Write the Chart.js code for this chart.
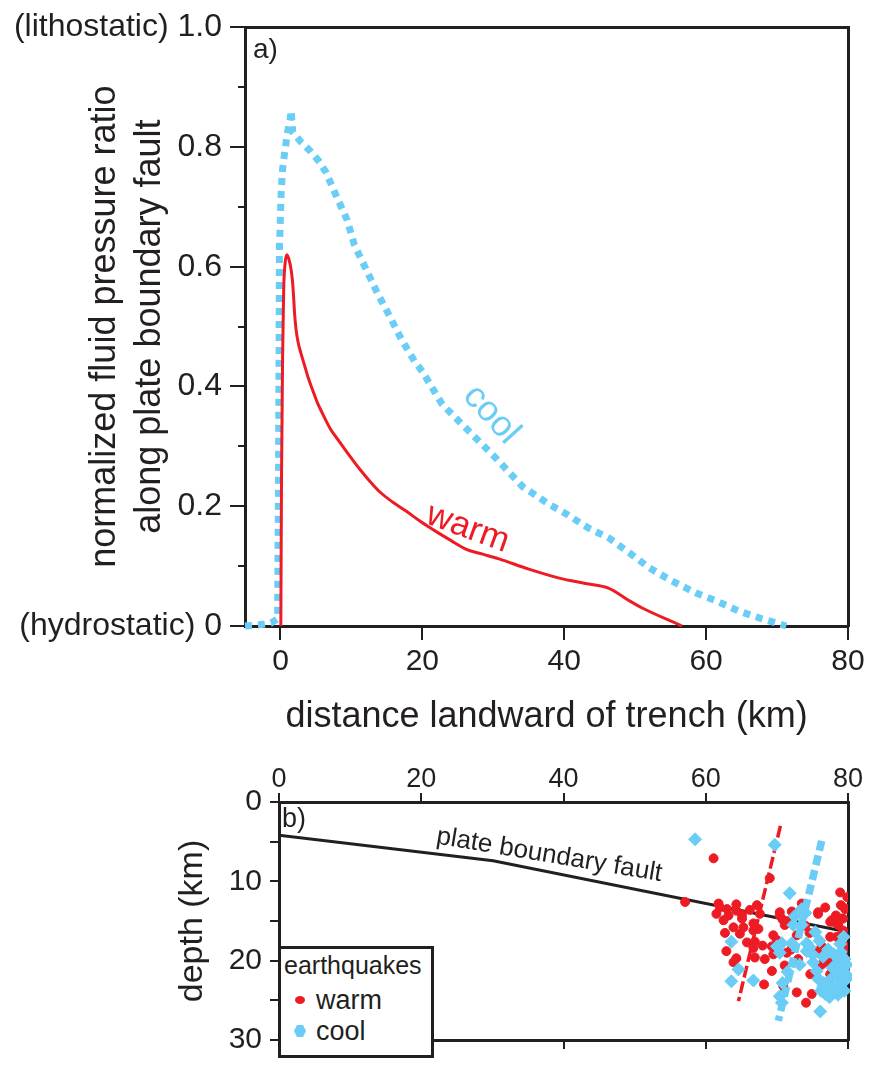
<!DOCTYPE html>
<html>
<head>
<meta charset="utf-8">
<script src="https://cdn.jsdelivr.net/npm/chart.js@4.4.1/dist/chart.umd.min.js"></script>
<style>
html,body{margin:0;padding:0;background:#fff;}
#wrap{position:relative;width:879px;height:1066px;overflow:hidden;font-family:"Liberation Sans",Arial,Helvetica,sans-serif;color:#231f20;}
#c1{position:absolute;left:0;top:0;}
#c2{position:absolute;left:0;top:750px;}
#legend{position:absolute;left:278px;top:946px;width:150px;height:106px;border:3px solid #231f20;background:#fff;}
.lg{position:absolute;white-space:nowrap;line-height:30px;}
#lgTitle{left:284px;top:950px;font-size:25px;}
#lgWarm{left:316px;top:985px;font-size:27px;}
#lgCool{left:316px;top:1016px;font-size:27px;}
#dotWarm{position:absolute;left:295px;top:996px;width:10px;height:8px;border-radius:50%;background:#ED1C24;}
#dotCool{position:absolute;left:294px;top:1025px;width:12px;height:12px;background:#6ACDF5;clip-path:polygon(25% 0,75% 0,100% 50%,75% 100%,25% 100%,0 50%);}
</style>
</head>
<body>
<div id="wrap">
  <canvas id="c1" width="879" height="750"></canvas>
  <canvas id="c2" width="879" height="316"></canvas>
  <div id="legend"></div>
  <div class="lg" id="lgTitle">earthquakes</div>
  <div id="dotWarm"></div><div class="lg" id="lgWarm">warm</div>
  <div id="dotCool"></div><div class="lg" id="lgCool">cool</div>
</div>
<script>
// ---------- panel a) data ----------
const warmX = [0.05, 0.15, 0.3, 0.45, 0.65, 0.9, 1.2, 1.5, 1.7, 1.85, 2.0, 2.2, 2.5, 2.9, 3.4, 3.9, 4.5, 5.2, 6.0, 7.0, 8.3, 9.7, 11.1, 12.5, 13.9, 15.8, 17.7, 19.8, 21.9, 24.0, 26.2, 28.5, 30.8, 35.0, 39.3, 43.0, 46.3, 49.2, 51.0, 56.6];
const warmY = [0, 0.25, 0.45, 0.56, 0.605, 0.62, 0.612, 0.595, 0.575, 0.55, 0.52, 0.495, 0.473, 0.455, 0.435, 0.415, 0.395, 0.373, 0.353, 0.33, 0.308, 0.285, 0.263, 0.243, 0.225, 0.207, 0.192, 0.174, 0.158, 0.143, 0.128, 0.12, 0.112, 0.095, 0.08, 0.071, 0.063, 0.042, 0.03, 0];

const coolX = [-5, -3, -1.3, -0.4, -0.3, -0.2, -0.15, 0.1, 0.3, 0.56, 1.0, 1.37, 1.5, 1.73, 2.9, 4.3, 5.5, 6.4, 7.8, 9.4, 10.4, 12.1, 13.7, 15.4, 17.0, 18.9, 20.0, 22.8, 26.6, 30.4, 34.1, 37.9, 40.3, 43.5, 46.3, 49.2, 52.0, 55.2, 58.6, 61.4, 64.6, 67.9, 71.3];
const coolY = [0, 0.002, 0.005, 0.012, 0.2, 0.45, 0.63, 0.725, 0.763, 0.788, 0.825, 0.847, 0.861, 0.825, 0.808, 0.792, 0.775, 0.758, 0.72, 0.678, 0.637, 0.595, 0.555, 0.517, 0.48, 0.442, 0.425, 0.37, 0.325, 0.28, 0.233, 0.203, 0.187, 0.163, 0.147, 0.122, 0.097, 0.075, 0.055, 0.042, 0.025, 0.012, 0];

const topXTickValues = [0, 20, 40, 60, 80];
const topXTickLabels = ['0', '20', '40', '60', '80'];
const topYTickValues = [0, 0.2, 0.4, 0.6, 0.8, 1.0];
const topYTickLabels = ['(hydrostatic) 0', '0.2', '0.4', '0.6', '0.8', '(lithostatic) 1.0'];
const topYMinorValues = [0.1, 0.3, 0.5, 0.7, 0.9];
const topXTitle = 'distance landward of trench (km)';
const topYTitle = ['normalized fluid pressure ratio', 'along plate boundary fault'];

// ---------- panel b) data ----------
const faultX = [0, 30.1, 80];
const faultDepth = [4.2, 7.4, 16.4];
const warmTrendX = [70.5, 64.6];
const warmTrendDepth = [3.0, 25.1];
const coolTrendX = [76.3, 70.2];
const coolTrendDepth = [4.9, 27.6];

const warmQuakeX = [57.1, 61.1, 69.0, 78.9, 61.8, 64.3, 64.3, 66.2, 75.8, 79.6, 61.5, 63.2, 67.6, 70.4, 72.1, 77.7, 79.3, 62.5, 65.1, 65.1, 70.4, 71.1, 71.6, 70.8, 63.9, 65.3, 66.7, 67.4, 62.7, 69.5, 70.0, 65.8, 66.9, 66.7, 72.8, 74.0, 75.8, 77.5, 78.6, 77.5, 79.3, 76.3, 75.8, 69.3, 71.4, 69.5, 64.3, 66.9, 68.3, 63.9, 76.3, 71.1, 69.3, 74.7, 75.6, 77.5, 70.9, 68.2, 72.8, 74.9, 74.1, 79.6, 79.1, 77.9, 78.4, 79.6, 79.9, 79.0, 78.3, 76.8, 73.5, 67.2, 62.0, 63.0, 74.6, 72.0, 68.0, 79.4, 78.6, 79.8, 73.0, 62.9, 64.8, 66.7, 77.2, 76.1];
const warmQuakeDepth = [12.6, 7.1, 9.6, 11.4, 12.8, 12.9, 13.7, 13.6, 13.9, 13.5, 14.1, 14.3, 14.1, 13.9, 13.8, 14.9, 14.7, 14.9, 14.7, 14.2, 14.3, 15.5, 15.0, 14.8, 15.8, 15.8, 15.3, 16.0, 16.5, 16.8, 17.4, 17.7, 17.6, 18.4, 16.8, 15.6, 14.1, 15.1, 15.5, 17.0, 16.2, 18.2, 19.0, 18.2, 19.0, 19.2, 19.7, 19.6, 19.8, 20.2, 20.5, 20.6, 21.3, 21.7, 22.1, 21.7, 23.2, 23.0, 24.0, 24.2, 25.3, 13.4, 14.7, 15.1, 17.0, 18.2, 12.0, 13.0, 14.3, 13.3, 12.8, 13.0, 13.3, 13.5, 16.5, 18.6, 18.1, 19.5, 20.3, 21.0, 19.8, 18.8, 16.6, 16.2, 20.2, 18.6];

const coolQuakeX = [58.5, 69.7, 71.8, 73.5, 74.0, 72.5, 72.3, 73.5, 75.4, 63.6, 70.0, 72.1, 74.2, 74.2, 70.7, 70.4, 64.6, 63.6, 66.7, 76.1, 70.4, 70.7, 76.5, 77.2, 78.0, 79.0, 79.5, 78.5, 77.8, 79.3, 78.4, 77.5, 76.6, 79.6, 78.8, 77.9, 76.2, 79.5, 78.6, 77.4, 76.8, 79.8, 80.0, 78.9, 79.4, 75.1, 75.8, 76.0, 75.0, 73.2, 71.5, 70.8, 74.6, 75.6, 76.5];
const coolQuakeDepth = [4.7, 5.4, 11.5, 13.5, 14.0, 14.4, 15.5, 15.5, 16.4, 17.6, 18.2, 17.8, 17.8, 18.8, 17.8, 19.0, 21.1, 22.6, 22.5, 26.4, 24.5, 25.3, 19.5, 18.6, 19.2, 18.9, 19.8, 20.3, 20.9, 21.2, 21.8, 22.4, 22.8, 22.5, 23.0, 23.6, 23.8, 23.8, 24.3, 24.6, 24.2, 20.5, 22.0, 17.9, 17.0, 20.2, 22.3, 17.5, 19.2, 20.5, 21.4, 22.8, 18.3, 21.3, 23.3];

const depthXTickValues = [0, 20, 40, 60, 80];
const depthXTickLabels = ['0', '20', '40', '60', '80'];
const depthYTickValues = [0, 5, 10, 15, 20, 25, 30];
const depthYTickLabels = ['0', '', '10', '', '20', '', '30'];
const depthYTitle = 'depth (km)';

// ---------- styles ----------
const INK = '#231f20';
const RED = '#ED1C24';
const BLUE = '#6ACDF5';
const FONT = '"Liberation Sans", Arial, Helvetica, sans-serif';
Chart.defaults.font.family = FONT;
Chart.defaults.color = INK;

const pts = (xs, ys) => xs.map((x, i) => ({x: x, y: ys[i]}));
const setTicks = vals => (s => { s.ticks = vals.map(v => ({value: v})); });

function annotPlugin(items) {
  return {
    id: 'annot',
    afterDatasetsDraw(chart) {
      const ctx = chart.ctx, ca = chart.chartArea;
      items.forEach(it => {
        let px, py;
        if (it.corner) { px = ca.left + it.dx; py = ca.top + it.dy; }
        else { px = chart.scales[it.xs].getPixelForValue(it.x); py = chart.scales[it.ys].getPixelForValue(it.y); }
        ctx.save();
        ctx.translate(px, py);
        ctx.rotate((it.rot || 0) * Math.PI / 180);
        ctx.font = it.size + 'px ' + FONT;
        ctx.fillStyle = it.color || INK;
        ctx.textAlign = it.align || 'center';
        ctx.textBaseline = 'middle';
        ctx.fillText(it.text, 0, 0);
        ctx.restore();
      });
    }
  };
}

const frameAxis = (axis, pos, min, max, extra) => Object.assign({
  axis: axis, type: 'linear', position: pos, min: min, max: max,
  ticks: {display: false},
  grid: {display: true, drawOnChartArea: false, drawTicks: false},
  border: {display: true, color: INK, width: 3}
}, extra || {});

// ---------- chart a ----------
new Chart(document.getElementById('c1'), {
  type: 'scatter',
  data: {
    datasets: [
      {label: 'warm', data: pts(warmX, warmY), xAxisID: 'x', yAxisID: 'y', showLine: true, borderColor: RED, backgroundColor: RED, borderWidth: 3, pointRadius: 0, cubicInterpolationMode: 'monotone', clip: false, order: 1},
      {label: 'cool', data: pts(coolX, coolY), xAxisID: 'x', yAxisID: 'y', showLine: true, borderColor: BLUE, backgroundColor: BLUE, borderWidth: 7, borderDash: [7, 6], borderCapStyle: 'butt', pointRadius: 0, tension: 0, clip: false, order: 2}
    ]
  },
  options: {
    responsive: false, animation: false, events: [],
    layout: {padding: {top: 25, right: 31, left: 0, bottom: 0}},
    plugins: {legend: {display: false}, tooltip: {enabled: false}},
    scales: {
      x: {
        axis: 'x', type: 'linear', position: 'bottom', min: -5, max: 80,
        afterBuildTicks: setTicks(topXTickValues),
        afterFit: s => { s.height = 124; },
        grid: {display: true, drawOnChartArea: false, drawTicks: true, tickLength: 14, color: INK, lineWidth: 2},
        border: {display: true, color: INK, width: 3},
        ticks: {color: INK, font: {size: 30}, padding: 4, maxRotation: 0, autoSkip: false,
                callback: v => topXTickLabels[topXTickValues.indexOf(v)]},
        title: {display: true, text: topXTitle, color: INK, font: {size: 36}, padding: {top: 0, bottom: 11}}
      },
      y: {
        axis: 'y', type: 'linear', position: 'left', weight: 2, min: 0, max: 1,
        afterBuildTicks: setTicks(topYTickValues),
        afterFit: s => { s.width = 245; },
        grid: {display: true, drawOnChartArea: false, drawTicks: true, tickLength: 15, color: INK, lineWidth: 2},
        border: {display: true, color: INK, width: 3},
        ticks: {color: INK, font: {size: 32}, padding: 8, autoSkip: false,
                callback: v => topYTickLabels[topYTickValues.indexOf(v)]},
        title: {display: true, text: topYTitle, color: INK, font: {size: 36, lineHeight: 1.25}, padding: {top: 82.5, bottom: 0}}
      },
      yMinor: {
        axis: 'y', type: 'linear', position: 'left', weight: 1, min: 0, max: 1,
        afterBuildTicks: setTicks(topYMinorValues),
        afterFit: s => { s.width = 0; },
        grid: {display: true, drawOnChartArea: false, drawTicks: true, tickLength: 7, color: INK, lineWidth: 2},
        border: {display: false},
        ticks: {display: false}
      },
      xTop: frameAxis('x', 'top', -5, 80, {afterFit: s => { s.height = 0; }}),
      yRight: frameAxis('y', 'right', 0, 1, {afterFit: s => { s.width = 0; }})
    }
  },
  plugins: [annotPlugin([
    {corner: true, dx: 8, dy: 23, text: 'a)', size: 28, align: 'left'},
    {xs: 'x', ys: 'y', x: 29.7, y: 0.353, rot: 48, text: 'cool', size: 36, color: BLUE},
    {xs: 'x', ys: 'y', x: 26.4, y: 0.163, rot: 20, text: 'warm', size: 35, color: RED}
  ])]
});

// ---------- chart b ----------
new Chart(document.getElementById('c2'), {
  type: 'scatter',
  data: {
    datasets: [
      {label: 'plate boundary fault', data: pts(faultX, faultDepth), xAxisID: 'x', yAxisID: 'y', showLine: true, borderColor: INK, borderWidth: 3, pointRadius: 0, tension: 0, order: 5},
      {label: 'warm', data: pts(warmQuakeX, warmQuakeDepth), xAxisID: 'x', yAxisID: 'y', pointStyle: 'circle', pointRadius: 4.5, backgroundColor: RED, borderColor: RED, borderWidth: 1, order: 4},
      {label: 'warm trend', data: pts(warmTrendX, warmTrendDepth), xAxisID: 'x', yAxisID: 'y', showLine: true, borderColor: RED, borderWidth: 3.5, borderDash: [12, 4], pointRadius: 0, order: 3},
      {label: 'cool', data: pts(coolQuakeX, coolQuakeDepth), xAxisID: 'x', yAxisID: 'y', pointStyle: 'rectRot', pointRadius: 6.5, backgroundColor: BLUE, borderColor: BLUE, borderWidth: 1, order: 2, clip: 4},
      {label: 'cool trend', data: pts(coolTrendX, coolTrendDepth), xAxisID: 'x', yAxisID: 'y', showLine: true, borderColor: BLUE, borderWidth: 7.5, borderDash: [10, 5], pointRadius: 0, order: 1}
    ]
  },
  options: {
    responsive: false, animation: false, events: [],
    layout: {padding: {top: 0, right: 31, left: 0, bottom: 0}},
    plugins: {legend: {display: false}, tooltip: {enabled: false}},
    scales: {
      x: {
        axis: 'x', type: 'linear', position: 'top', min: 0, max: 80,
        afterBuildTicks: setTicks(depthXTickValues),
        afterFit: s => { s.height = 52; },
        grid: {display: true, drawOnChartArea: false, drawTicks: true, tickLength: 9, color: INK, lineWidth: 2},
        border: {display: true, color: INK, width: 3},
        ticks: {color: INK, font: {size: 27}, padding: -3, maxRotation: 0, autoSkip: false,
                callback: v => depthXTickLabels[depthXTickValues.indexOf(v)]}
      },
      y: {
        axis: 'y', type: 'linear', position: 'left', reverse: true, min: 0, max: 30,
        afterBuildTicks: setTicks(depthYTickValues),
        afterFit: s => { s.width = 279; },
        grid: {display: true, drawOnChartArea: false, drawTicks: true, tickLength: 9, color: INK, lineWidth: 2},
        border: {display: true, color: INK, width: 3},
        ticks: {color: INK, font: {size: 30}, padding: 8, autoSkip: false,
                callback: v => depthYTickLabels[depthYTickValues.indexOf(v)]},
        title: {display: true, text: depthYTitle, color: INK, font: {size: 34}, padding: {top: 172, bottom: 0}}
      },
      xB: frameAxis('x', 'bottom', 0, 80, {
        afterBuildTicks: setTicks(depthXTickValues),
        afterFit: s => { s.height = 9; },
        grid: {display: true, drawOnChartArea: false, drawTicks: true, tickLength: 9, color: INK, lineWidth: 2}
      }),
      yR: frameAxis('y', 'right', 0, 30, {afterFit: s => { s.width = 0; }})
    }
  },
  plugins: [annotPlugin([
    {corner: true, dx: 3, dy: 18, text: 'b)', size: 27, align: 'left'},
    {xs: 'x', ys: 'y', x: 38.0, y: 6.7, rot: 9.5, text: 'plate boundary fault', size: 26}
  ])]
});
</script>
</body>
</html>
